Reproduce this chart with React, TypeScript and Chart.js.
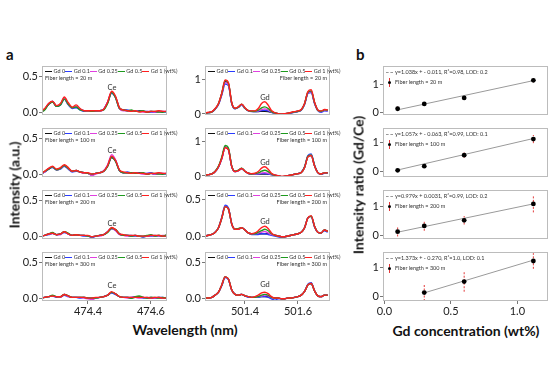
import React, { useEffect, useRef } from "react";
import { Chart, registerables } from "chart.js";
Chart.register(...registerables);

// ---------------- DATA ----------------
const SERIES_NAMES = ["Gd 0", "Gd 0.1", "Gd 0.25", "Gd 0.5", "Gd 1 (wt%)"];
const SERIES_COLORS = ["#111111", "#2a3cff", "#e040e0", "#1e9a1e", "#ff2020"];
const FIBER_LENGTHS = ["20 m", "100 m", "200 m", "300 m"];

const CE_WAVELENGTH = [474.25, 474.2625, 474.275, 474.2875, 474.3, 474.3125, 474.325, 474.3375, 474.35, 474.3625, 474.375, 474.3875, 474.4, 474.4125, 474.425, 474.4375, 474.45, 474.4625, 474.475, 474.4875, 474.5, 474.5125, 474.525, 474.5375, 474.55, 474.5625, 474.575, 474.5875, 474.6, 474.6125, 474.625, 474.6375, 474.65];
const GD_WAVELENGTH = [501.25, 501.2625, 501.275, 501.2875, 501.3, 501.3125, 501.325, 501.3375, 501.35, 501.3625, 501.375, 501.3875, 501.4, 501.4125, 501.425, 501.4375, 501.45, 501.4625, 501.475, 501.4875, 501.5, 501.5125, 501.525, 501.5375, 501.55, 501.5625, 501.575, 501.5875, 501.6, 501.6125, 501.625, 501.6375, 501.65, 501.6625, 501.675, 501.6875, 501.7, 501.7125];

// Ce region spectra (Gd 0, Gd 0.1, Gd 0.25, Gd 0.5, Gd 1)
const CE_20M = [
  [0.01, 0.05, 0.12, 0.15, 0.09, 0.12, 0.20, 0.12, 0.07, 0.08, 0.05, 0.03, 0.03, 0.02, 0.03, 0.03, 0.05, 0.14, 0.28, 0.22, 0.07, 0.04, 0.03, 0.03, 0.02, 0.03, 0.02, 0.01, 0.02, 0.01, 0.02, 0.01, 0.02],
  [0.01, 0.05, 0.12, 0.16, 0.09, 0.11, 0.19, 0.11, 0.06, 0.07, 0.04, 0.02, 0.03, 0.03, 0.02, 0.03, 0.05, 0.15, 0.27, 0.21, 0.06, 0.04, 0.04, 0.03, 0.03, 0.02, 0.02, 0.02, 0.01, 0.01, 0.02, 0.02, 0.01],
  [0.01, 0.05, 0.13, 0.15, 0.10, 0.12, 0.20, 0.12, 0.07, 0.09, 0.05, 0.03, 0.02, 0.03, 0.03, 0.02, 0.05, 0.15, 0.29, 0.22, 0.06, 0.03, 0.03, 0.02, 0.03, 0.02, 0.01, 0.02, 0.02, 0.01, 0.01, 0.02, 0.02],
  [0.01, 0.04, 0.12, 0.15, 0.09, 0.11, 0.19, 0.12, 0.07, 0.08, 0.04, 0.03, 0.03, 0.02, 0.03, 0.03, 0.04, 0.13, 0.28, 0.21, 0.06, 0.04, 0.03, 0.04, 0.02, 0.02, 0.03, 0.01, 0.02, 0.02, 0.01, 0.01, 0.02],
  [0.02, 0.06, 0.13, 0.16, 0.10, 0.13, 0.22, 0.14, 0.08, 0.11, 0.06, 0.03, 0.03, 0.03, 0.03, 0.03, 0.05, 0.15, 0.30, 0.23, 0.07, 0.04, 0.03, 0.02, 0.03, 0.01, 0.02, 0.01, 0.02, 0.02, 0.03, 0.02, 0.02],
];
const CE_100M = [
  [0.01, 0.04, 0.08, 0.11, 0.07, 0.09, 0.13, 0.09, 0.05, 0.06, 0.04, 0.03, 0.02, 0.00, 0.02, 0.03, 0.05, 0.12, 0.24, 0.19, 0.06, 0.03, 0.03, 0.02, 0.02, 0.03, 0.02, 0.01, 0.02, 0.01, 0.02, 0.01, 0.02],
  [0.01, 0.04, 0.08, 0.10, 0.07, 0.08, 0.12, 0.08, 0.04, 0.05, 0.04, 0.03, 0.02, 0.01, 0.02, 0.03, 0.05, 0.13, 0.25, 0.20, 0.06, 0.03, 0.04, 0.03, 0.03, 0.02, 0.02, 0.02, 0.03, 0.01, 0.02, 0.02, 0.01],
  [0.01, 0.04, 0.09, 0.11, 0.07, 0.09, 0.13, 0.09, 0.05, 0.06, 0.04, 0.02, 0.02, -0.01, 0.01, 0.03, 0.06, 0.14, 0.28, 0.21, 0.06, 0.03, 0.03, 0.02, 0.02, 0.02, 0.01, 0.02, 0.02, 0.01, 0.01, 0.02, 0.02],
  [0.01, 0.05, 0.08, 0.11, 0.07, 0.09, 0.13, 0.09, 0.05, 0.06, 0.04, 0.03, 0.02, 0.01, 0.02, 0.03, 0.05, 0.12, 0.25, 0.19, 0.06, 0.03, 0.03, 0.03, 0.02, 0.02, 0.03, 0.01, 0.02, 0.02, 0.01, 0.01, 0.02],
  [0.02, 0.05, 0.09, 0.12, 0.08, 0.10, 0.14, 0.10, 0.05, 0.06, 0.04, 0.03, 0.03, 0.01, 0.02, 0.03, 0.05, 0.13, 0.26, 0.20, 0.07, 0.04, 0.03, 0.02, 0.03, 0.02, 0.02, 0.01, 0.02, 0.02, 0.03, 0.02, 0.02],
];
const CE_200M = [
  [0.01, 0.02, 0.04, 0.05, 0.03, 0.04, 0.07, 0.04, 0.02, 0.03, 0.02, 0.02, 0.01, 0.00, 0.01, 0.02, 0.03, 0.07, 0.12, 0.10, 0.04, 0.02, 0.02, 0.01, 0.02, 0.01, 0.00, 0.01, 0.02, 0.01, 0.02, 0.01, 0.02],
  [0.01, 0.02, 0.03, 0.05, 0.03, 0.04, 0.06, 0.04, 0.02, 0.02, 0.02, 0.01, 0.01, -0.01, 0.01, 0.02, 0.03, 0.07, 0.11, 0.09, 0.04, 0.02, 0.02, 0.02, 0.01, 0.01, 0.00, 0.01, 0.01, 0.02, 0.01, 0.01, 0.01],
  [0.01, 0.02, 0.04, 0.05, 0.03, 0.03, 0.07, 0.04, 0.02, 0.03, 0.02, 0.02, 0.01, 0.00, 0.01, 0.01, 0.03, 0.07, 0.12, 0.09, 0.03, 0.02, 0.01, 0.01, 0.02, 0.01, 0.01, 0.01, 0.02, 0.01, 0.01, 0.02, 0.02],
  [0.01, 0.02, 0.04, 0.06, 0.03, 0.04, 0.07, 0.05, 0.02, 0.03, 0.02, 0.02, 0.01, 0.00, 0.01, 0.02, 0.03, 0.06, 0.12, 0.10, 0.04, 0.02, 0.02, 0.01, 0.02, 0.01, 0.01, 0.02, 0.03, 0.01, 0.02, 0.01, 0.03],
  [0.01, 0.02, 0.04, 0.05, 0.03, 0.04, 0.07, 0.04, 0.02, 0.03, 0.02, 0.02, 0.02, 0.00, 0.01, 0.02, 0.03, 0.07, 0.13, 0.10, 0.04, 0.03, 0.02, 0.02, 0.02, 0.01, 0.01, 0.01, 0.02, 0.02, 0.02, 0.01, 0.01],
];
const CE_300M = [
  [0.01, 0.02, 0.03, 0.04, 0.03, 0.03, 0.06, 0.04, 0.02, 0.02, 0.02, 0.02, 0.01, 0.01, 0.01, 0.02, 0.03, 0.05, 0.09, 0.07, 0.03, 0.02, 0.02, 0.01, 0.02, 0.03, 0.02, 0.01, 0.02, 0.01, 0.02, 0.01, 0.01],
  [0.01, 0.02, 0.03, 0.04, 0.02, 0.03, 0.05, 0.03, 0.02, 0.02, 0.01, 0.02, 0.01, 0.00, 0.01, 0.02, 0.03, 0.05, 0.08, 0.06, 0.03, 0.02, 0.02, 0.02, 0.03, 0.02, 0.01, 0.02, 0.01, 0.01, 0.02, 0.02, 0.01],
  [0.01, 0.02, 0.03, 0.04, 0.03, 0.02, 0.06, 0.03, 0.02, 0.02, 0.02, 0.01, 0.00, -0.01, 0.01, 0.02, 0.03, 0.05, 0.09, 0.07, 0.03, 0.02, 0.01, 0.02, 0.02, 0.01, 0.02, 0.01, 0.02, 0.01, 0.01, 0.01, 0.02],
  [0.01, 0.02, 0.03, 0.05, 0.03, 0.03, 0.06, 0.04, 0.02, 0.02, 0.02, 0.02, 0.01, 0.01, 0.01, 0.02, 0.03, 0.05, 0.09, 0.07, 0.03, 0.02, 0.02, 0.01, 0.03, 0.04, 0.02, 0.01, 0.02, 0.02, 0.01, 0.02, 0.01],
  [0.01, 0.02, 0.03, 0.04, 0.03, 0.03, 0.06, 0.04, 0.02, 0.02, 0.02, 0.02, 0.01, 0.01, 0.02, 0.02, 0.03, 0.05, 0.10, 0.07, 0.03, 0.02, 0.02, 0.02, 0.02, 0.02, 0.02, 0.02, 0.01, 0.02, 0.02, 0.01, 0.01],
];

// Gd region spectra
const GD_20M = [
  [0.02, 0.04, 0.06, 0.15, 0.30, 0.60, 0.95, 0.88, 0.32, 0.16, 0.20, 0.28, 0.17, 0.10, 0.08, 0.07, 0.07, 0.08, 0.08, 0.07, 0.05, 0.03, 0.01, -0.01, 0.00, 0.02, 0.04, 0.06, 0.08, 0.12, 0.30, 0.62, 0.66, 0.33, 0.11, 0.07, 0.11, 0.11],
  [0.02, 0.04, 0.06, 0.14, 0.28, 0.56, 0.88, 0.83, 0.30, 0.15, 0.19, 0.27, 0.16, 0.09, 0.07, 0.07, 0.08, 0.10, 0.11, 0.09, 0.05, 0.02, 0.00, -0.02, -0.01, 0.01, 0.03, 0.05, 0.07, 0.11, 0.28, 0.60, 0.63, 0.31, 0.10, 0.05, 0.09, 0.08],
  [0.02, 0.04, 0.06, 0.15, 0.29, 0.58, 0.93, 0.86, 0.31, 0.16, 0.20, 0.28, 0.17, 0.10, 0.08, 0.08, 0.09, 0.13, 0.15, 0.12, 0.06, 0.03, 0.01, -0.01, 0.00, 0.02, 0.04, 0.06, 0.08, 0.12, 0.29, 0.62, 0.65, 0.32, 0.11, 0.07, 0.11, 0.10],
  [0.02, 0.04, 0.06, 0.15, 0.30, 0.61, 0.98, 0.90, 0.32, 0.16, 0.20, 0.29, 0.17, 0.10, 0.08, 0.08, 0.11, 0.18, 0.21, 0.16, 0.07, 0.03, 0.01, -0.01, 0.00, 0.02, 0.04, 0.06, 0.08, 0.12, 0.30, 0.64, 0.68, 0.34, 0.11, 0.08, 0.12, 0.11],
  [0.03, 0.05, 0.07, 0.16, 0.31, 0.62, 1.00, 0.92, 0.33, 0.17, 0.21, 0.29, 0.18, 0.10, 0.09, 0.09, 0.16, 0.31, 0.36, 0.26, 0.10, 0.04, 0.01, 0.00, 0.01, 0.02, 0.05, 0.07, 0.09, 0.13, 0.31, 0.66, 0.71, 0.35, 0.12, 0.09, 0.13, 0.12],
];
const GD_100M = [
  [0.02, 0.04, 0.06, 0.13, 0.27, 0.52, 0.85, 0.78, 0.28, 0.13, 0.16, 0.22, 0.14, 0.08, 0.06, 0.06, 0.06, 0.06, 0.06, 0.05, 0.04, 0.02, 0.00, -0.02, -0.01, 0.01, 0.03, 0.05, 0.07, 0.10, 0.25, 0.56, 0.60, 0.30, 0.10, 0.06, 0.09, 0.09],
  [0.02, 0.04, 0.06, 0.13, 0.26, 0.51, 0.84, 0.77, 0.27, 0.13, 0.16, 0.21, 0.13, 0.07, 0.05, 0.05, 0.06, 0.07, 0.07, 0.06, 0.04, 0.02, 0.00, -0.02, -0.01, 0.01, 0.03, 0.05, 0.07, 0.11, 0.27, 0.60, 0.65, 0.32, 0.10, 0.05, 0.08, 0.08],
  [0.02, 0.04, 0.06, 0.13, 0.27, 0.52, 0.84, 0.78, 0.28, 0.13, 0.16, 0.22, 0.14, 0.08, 0.06, 0.06, 0.07, 0.09, 0.10, 0.08, 0.05, 0.02, 0.00, -0.02, -0.01, 0.01, 0.03, 0.05, 0.07, 0.10, 0.25, 0.57, 0.61, 0.30, 0.10, 0.06, 0.09, 0.09],
  [0.02, 0.04, 0.06, 0.14, 0.29, 0.56, 0.90, 0.82, 0.29, 0.14, 0.17, 0.23, 0.14, 0.08, 0.06, 0.07, 0.09, 0.14, 0.17, 0.13, 0.06, 0.02, 0.00, -0.02, -0.01, 0.01, 0.03, 0.05, 0.07, 0.10, 0.26, 0.58, 0.62, 0.31, 0.10, 0.06, 0.09, 0.09],
  [0.02, 0.04, 0.06, 0.13, 0.27, 0.52, 0.83, 0.77, 0.28, 0.13, 0.16, 0.22, 0.14, 0.08, 0.07, 0.08, 0.13, 0.23, 0.27, 0.20, 0.08, 0.03, 0.01, -0.01, 0.00, 0.01, 0.03, 0.05, 0.07, 0.10, 0.25, 0.56, 0.60, 0.30, 0.10, 0.06, 0.09, 0.09],
];
const GD_200M = [
  [0.01, 0.02, 0.03, 0.06, 0.12, 0.25, 0.40, 0.37, 0.17, 0.10, 0.10, 0.12, 0.09, 0.05, 0.04, 0.04, 0.04, 0.04, 0.04, 0.04, 0.03, 0.02, 0.01, 0.00, 0.00, 0.01, 0.02, 0.03, 0.04, 0.06, 0.12, 0.25, 0.27, 0.14, 0.06, 0.05, 0.09, 0.07],
  [0.01, 0.02, 0.03, 0.06, 0.12, 0.26, 0.42, 0.38, 0.17, 0.10, 0.10, 0.12, 0.09, 0.05, 0.03, 0.03, 0.03, 0.04, 0.04, 0.03, 0.02, 0.01, 0.00, -0.01, 0.00, 0.01, 0.02, 0.03, 0.04, 0.06, 0.12, 0.25, 0.27, 0.13, 0.06, 0.05, 0.08, 0.06],
  [0.01, 0.02, 0.03, 0.06, 0.12, 0.25, 0.40, 0.37, 0.17, 0.10, 0.10, 0.12, 0.09, 0.05, 0.04, 0.04, 0.05, 0.06, 0.07, 0.05, 0.03, 0.02, 0.01, 0.00, 0.00, 0.01, 0.02, 0.03, 0.04, 0.06, 0.12, 0.25, 0.27, 0.14, 0.06, 0.05, 0.09, 0.07],
  [0.01, 0.02, 0.03, 0.06, 0.12, 0.25, 0.40, 0.37, 0.17, 0.10, 0.11, 0.12, 0.09, 0.05, 0.04, 0.04, 0.06, 0.08, 0.10, 0.08, 0.04, 0.02, 0.01, 0.00, 0.00, 0.01, 0.02, 0.03, 0.04, 0.06, 0.12, 0.25, 0.27, 0.14, 0.06, 0.05, 0.09, 0.07],
  [0.01, 0.02, 0.03, 0.06, 0.12, 0.25, 0.40, 0.37, 0.17, 0.10, 0.10, 0.12, 0.09, 0.05, 0.04, 0.05, 0.08, 0.12, 0.14, 0.11, 0.05, 0.02, 0.01, 0.00, 0.00, 0.01, 0.02, 0.03, 0.04, 0.06, 0.12, 0.25, 0.28, 0.14, 0.06, 0.05, 0.09, 0.07],
];
const GD_300M = [
  [0.01, 0.01, 0.02, 0.05, 0.09, 0.19, 0.30, 0.27, 0.12, 0.06, 0.05, 0.06, 0.04, 0.03, 0.02, 0.02, 0.03, 0.03, 0.03, 0.03, 0.02, 0.01, 0.01, 0.00, 0.00, 0.01, 0.01, 0.02, 0.03, 0.05, 0.10, 0.19, 0.21, 0.11, 0.04, 0.03, 0.05, 0.05],
  [0.01, 0.01, 0.02, 0.05, 0.09, 0.18, 0.29, 0.26, 0.12, 0.06, 0.05, 0.06, 0.04, 0.02, 0.02, 0.02, 0.02, 0.03, 0.03, 0.02, 0.00, -0.02, 0.00, 0.00, 0.00, 0.01, 0.01, 0.02, 0.03, 0.05, 0.10, 0.20, 0.22, 0.11, 0.04, 0.03, 0.05, 0.05],
  [0.01, 0.01, 0.02, 0.05, 0.09, 0.19, 0.30, 0.27, 0.12, 0.06, 0.05, 0.06, 0.04, 0.03, 0.02, 0.02, 0.03, 0.04, 0.05, 0.04, 0.02, 0.01, 0.01, 0.00, 0.00, 0.01, 0.01, 0.02, 0.03, 0.05, 0.10, 0.19, 0.21, 0.11, 0.04, 0.03, 0.05, 0.05],
  [0.01, 0.01, 0.02, 0.05, 0.09, 0.19, 0.30, 0.27, 0.12, 0.06, 0.05, 0.06, 0.04, 0.03, 0.02, 0.02, 0.03, 0.05, 0.06, 0.05, 0.02, 0.01, 0.01, 0.00, 0.00, 0.01, 0.01, 0.02, 0.03, 0.05, 0.10, 0.19, 0.21, 0.11, 0.04, 0.03, 0.05, 0.05],
  [0.01, 0.01, 0.02, 0.05, 0.09, 0.19, 0.30, 0.27, 0.12, 0.06, 0.05, 0.06, 0.04, 0.03, 0.02, 0.03, 0.05, 0.08, 0.09, 0.07, 0.03, 0.01, 0.01, 0.00, 0.00, 0.01, 0.01, 0.02, 0.03, 0.05, 0.10, 0.19, 0.21, 0.11, 0.04, 0.03, 0.05, 0.05],
];

// Intensity ratio vs Gd concentration
const CONC_20M = [0.1, 0.3, 0.6, 1.12];
const RATIO_20M = [0.12, 0.3, 0.52, 1.17];
const ERR_20M = [0.08, 0.02, 0.03, 0.07];
const FIT_20M = [[0.1, 0.08], [1.12, 1.16]];
const CONC_100M = [0.1, 0.3, 0.6, 1.12];
const RATIO_100M = [0.03, 0.17, 0.55, 1.1];
const ERR_100M = [0.02, 0.02, 0.09, 0.14];
const FIT_100M = [[0.1, 0.04], [1.12, 1.12]];
const CONC_200M = [0.1, 0.3, 0.6, 1.12];
const RATIO_200M = [0.12, 0.32, 0.52, 1.1];
const ERR_200M = [0.17, 0.17, 0.15, 0.3];
const FIT_200M = [[0.1, 0.1], [1.12, 1.1]];
const CONC_300M = [0.3, 0.6, 1.12];
const RATIO_300M = [0.15, 0.53, 1.24];
const ERR_300M = [0.29, 0.35, 0.27];
const FIT_300M = [[0.3, 0.14], [1.12, 1.27]];
const FIT_EQUATIONS = [
  "y=1.038x + - 0.011, R²=0.98, LOD: 0.2",
  "y=1.057x + - 0.063, R²=0.99, LOD: 0.1",
  "y=0.979x + 0.0031, R²=0.99, LOD: 0.2",
  "y=1.373x + - 0.270, R²=1.0, LOD: 0.1",
];

// tick labels
const CE_X_TICKS = [474.4, 474.6];
const GD_X_TICKS = [501.4, 501.6];
const CONC_X_TICKS = [0.0, 0.5, 1.0];
const SPEC_LOW_Y_TICKS = [0.0, 0.5];
const SPEC_HIGH_Y_TICKS = [0, 1];
const RATIO_Y_TICKS = [0, 1];

// ---------------- LAYOUT ----------------
const FONT = "Lato, 'Open Sans', 'DejaVu Sans', sans-serif";
const ROW_TOPS = [66, 128, 190, 252];
const BOX_H = 49;
const COL_CE = { left: 42, w: 125 };
const COL_GD = { left: 205, w: 125 };
const COL_RATIO = { left: 383, w: 165 };
const YW = 30, PT = 3, PR = 3, PB = 8, XH = 18;

const framePlugin = {
  id: "frame",
  afterDatasetsDraw(chart: any) {
    const { ctx, chartArea: a } = chart;
    ctx.save();
    ctx.strokeStyle = "#bcbcbc";
    ctx.lineWidth = 1;
    ctx.strokeRect(Math.round(a.left) + 0.5, Math.round(a.top) + 0.5, Math.round(a.right - a.left) - 1, Math.round(a.bottom - a.top) - 1);
    ctx.restore();
  },
};

function axis(min: number, max: number, ticks: number[], decimals: number, isX: boolean, show: boolean) {
  return {
    type: "linear",
    min,
    max,
    display: show,
    afterBuildTicks: (s: any) => {
      s.ticks = ticks.map((v) => ({ value: v }));
    },
    afterFit: (s: any) => {
      if (isX) s.height = show ? XH : 0;
      else s.width = YW;
      s.paddingTop = 0;
      s.paddingBottom = 0;
      s.paddingLeft = 0;
      s.paddingRight = 0;
    },
    ticks: {
      font: { family: FONT, size: 11 },
      color: "#222",
      padding: 1,
      maxRotation: 0,
      autoSkip: false,
      callback: (v: any) => Number(v).toFixed(decimals),
    },
    grid: { display: true, drawOnChartArea: false, drawTicks: true, tickLength: 3, color: "#777" },
    border: { display: false },
  };
}

function baseOptions(showX: boolean, x: any, y: any) {
  return {
    responsive: false,
    maintainAspectRatio: false,
    animation: false,
    events: [],
    layout: { autoPadding: false, padding: { top: PT, right: PR, bottom: showX ? 0 : PB, left: 0 } },
    plugins: { legend: { display: false }, tooltip: { enabled: false } },
    scales: { x, y },
  };
}

function ChartBox({ left, top, w, showX, build }: { left: number; top: number; w: number; showX: boolean; build: () => any }) {
  const ref = useRef<HTMLCanvasElement>(null);
  const W = w + YW + PR;
  const H = BOX_H + PT + (showX ? XH : PB);
  useEffect(() => {
    const chart = new Chart(ref.current as HTMLCanvasElement, build());
    return () => chart.destroy();
  }, []);
  return (
    <div style={{ position: "absolute", left: left - YW, top: top - PT, width: W, height: H }}>
      <canvas ref={ref} width={W} height={H} style={{ display: "block", width: W, height: H }} />
    </div>
  );
}

function spectrumConfig(xs: number[], series: number[][], xr: [number, number], yr: [number, number], xTicks: number[], yTicks: number[], yDec: number, showX: boolean) {
  return () => ({
    type: "line",
    data: {
      datasets: series.map((ys, i) => ({
        label: SERIES_NAMES[i],
        data: xs.map((x, j) => ({ x, y: ys[j] })),
        borderColor: SERIES_COLORS[i],
        borderWidth: 1.4,
        pointRadius: 0,
        cubicInterpolationMode: "monotone",
        order: series.length - 1 - i,
      })),
    },
    options: baseOptions(showX, axis(xr[0], xr[1], xTicks, 1, true, showX), axis(yr[0], yr[1], yTicks, yDec, false, true)),
    plugins: [framePlugin],
  });
}

function ratioConfig(conc: number[], ratio: number[], err: number[], fit: number[][], yr: [number, number], showX: boolean) {
  const bars: any[] = [];
  conc.forEach((x, i) => {
    bars.push({ x, y: ratio[i] - err[i] });
    bars.push({ x, y: ratio[i] + err[i] });
    bars.push({ x, y: null });
  });
  return () => ({
    type: "line",
    data: {
      datasets: [
        { label: "fit", data: fit.map((p) => ({ x: p[0], y: p[1] })), borderColor: "#9a9a9a", borderWidth: 1, pointRadius: 0, order: 3 },
        { label: "error", data: bars, borderColor: "#e23a3a", borderWidth: 1, borderDash: [2, 1.5], pointRadius: 0, spanGaps: false, order: 2 },
        { label: "ratio", data: conc.map((x, i) => ({ x, y: ratio[i] })), showLine: false, pointRadius: 2.4, pointBackgroundColor: "#000", pointBorderWidth: 0, order: 1 },
      ],
    },
    options: baseOptions(showX, axis(-0.01, 1.23, CONC_X_TICKS, 1, true, showX), axis(yr[0], yr[1], RATIO_Y_TICKS, 0, false, true)),
    plugins: [framePlugin],
  });
}

const tiny: React.CSSProperties = { position: "absolute", fontFamily: FONT, fontSize: 5.5, lineHeight: "7px", color: "#333", whiteSpace: "nowrap" };

function SpecLegend({ left, top, w, fiber, right }: { left: number; top: number; w: number; fiber: string; right: boolean }) {
  return (
    <>
      <div style={{ ...tiny, left: left + 3, top: top + 2, width: w - 6, display: "flex", justifyContent: "space-between" }}>
        {SERIES_NAMES.map((n, i) => (
          <span key={i} style={{ display: "flex", alignItems: "center" }}>
            <span style={{ display: "inline-block", width: 7, height: 1.4, background: SERIES_COLORS[i], marginRight: 1.5 }} />
            {n}
          </span>
        ))}
      </div>
      <div style={right ? { ...tiny, left, top: top + 9, width: w - 3, textAlign: "right" } : { ...tiny, left: left + 3, top: top + 9 }}>Fiber length = {fiber}</div>
    </>
  );
}

function RatioLegend({ left, top, eq, fiber }: { left: number; top: number; eq: string; fiber: string }) {
  return (
    <>
      <div style={{ ...tiny, left: left + 3, top: top + 3, display: "flex", alignItems: "center" }}>
        <span style={{ display: "inline-block", width: 7, borderTop: "1px dashed #999", marginRight: 2 }} />
        {eq}
      </div>
      <div style={{ ...tiny, left: left + 3, top: top + 12, display: "flex", alignItems: "center" }}>
        <span style={{ position: "relative", display: "inline-block", width: 7, height: 9, marginRight: 2 }}>
          <span style={{ position: "absolute", left: 3, top: 0, height: 9, borderLeft: "1px dashed #e23a3a" }} />
          <span style={{ position: "absolute", left: 1.8, top: 3.3, width: 3, height: 3, borderRadius: 2, background: "#000" }} />
        </span>
        Fiber length = {fiber}
      </div>
    </>
  );
}

const title: React.CSSProperties = { position: "absolute", fontFamily: FONT, fontWeight: 700, fontSize: 14, color: "#111", whiteSpace: "nowrap", transform: "translate(-50%, -50%)" };
const peakLabel: React.CSSProperties = { position: "absolute", fontFamily: FONT, fontSize: 7.5, color: "#333", whiteSpace: "nowrap", transform: "translate(-50%, -50%)" };

export default function App() {
  const ceSeries = [CE_20M, CE_100M, CE_200M, CE_300M];
  const gdSeries = [GD_20M, GD_100M, GD_200M, GD_300M];
  const gdRanges: [number, number][] = [[-0.03, 1.41], [-0.03, 1.41], [-0.03, 0.62], [-0.03, 0.64]];
  const gdTicks = [SPEC_HIGH_Y_TICKS, SPEC_HIGH_Y_TICKS, SPEC_LOW_Y_TICKS, SPEC_LOW_Y_TICKS];
  const ratioSets = [
    [CONC_20M, RATIO_20M, ERR_20M, FIT_20M],
    [CONC_100M, RATIO_100M, ERR_100M, FIT_100M],
    [CONC_200M, RATIO_200M, ERR_200M, FIT_200M],
    [CONC_300M, RATIO_300M, ERR_300M, FIT_300M],
  ];
  const ratioRanges: [number, number][] = [[-0.11, 1.7], [-0.2, 1.48], [-0.14, 1.59], [-0.14, 1.55]];
  const ceLabelY = [87, 150, 223, 285];
  const gdLabelY = [97, 162, 221, 284];

  return (
    <div style={{ position: "absolute", left: 0, top: 0, width: 550, height: 380, background: "#fff", overflow: "hidden" }}>
      {ROW_TOPS.map((top, r) => {
        const showX = r === 3;
        return (
          <React.Fragment key={r}>
            <ChartBox left={COL_CE.left} top={top} w={COL_CE.w} showX={showX}
              build={spectrumConfig(CE_WAVELENGTH, ceSeries[r], [474.254, 474.651], [-0.03, 0.65], CE_X_TICKS, SPEC_LOW_Y_TICKS, 1, showX)} />
            <ChartBox left={COL_GD.left} top={top} w={COL_GD.w} showX={showX}
              build={spectrumConfig(GD_WAVELENGTH, gdSeries[r], [501.249, 501.721], gdRanges[r], GD_X_TICKS, gdTicks[r], r < 2 ? 0 : 1, showX)} />
            <ChartBox left={COL_RATIO.left} top={top} w={COL_RATIO.w} showX={showX}
              build={ratioConfig(ratioSets[r][0] as number[], ratioSets[r][1] as number[], ratioSets[r][2] as number[], ratioSets[r][3] as number[][], ratioRanges[r], showX)} />
            <SpecLegend left={COL_CE.left} top={top} w={COL_CE.w} fiber={FIBER_LENGTHS[r]} right={false} />
            <SpecLegend left={COL_GD.left} top={top} w={COL_GD.w} fiber={FIBER_LENGTHS[r]} right={true} />
            <RatioLegend left={COL_RATIO.left} top={top} eq={FIT_EQUATIONS[r]} fiber={FIBER_LENGTHS[r]} />
            <div style={{ ...peakLabel, left: 112, top: ceLabelY[r] }}>Ce</div>
            <div style={{ ...peakLabel, left: 265, top: gdLabelY[r] }}>Gd</div>
          </React.Fragment>
        );
      })}
      <div style={{ ...title, left: 6, top: 54, transform: "translate(0, -50%)", fontSize: 15 }}>a</div>
      <div style={{ ...title, left: 356, top: 54, transform: "translate(0, -50%)", fontSize: 15 }}>b</div>
      <div style={{ ...title, left: 14, top: 185, transform: "translate(-50%, -50%) rotate(-90deg)" }}>Intensity (a.u.)</div>
      <div style={{ ...title, left: 185, top: 329 }}>Wavelength (nm)</div>
      <div style={{ ...title, left: 358, top: 185, transform: "translate(-50%, -50%) rotate(-90deg)" }}>Intensity ratio (Gd/Ce)</div>
      <div style={{ ...title, left: 466, top: 330 }}>Gd concentration (wt%)</div>
    </div>
  );
}
